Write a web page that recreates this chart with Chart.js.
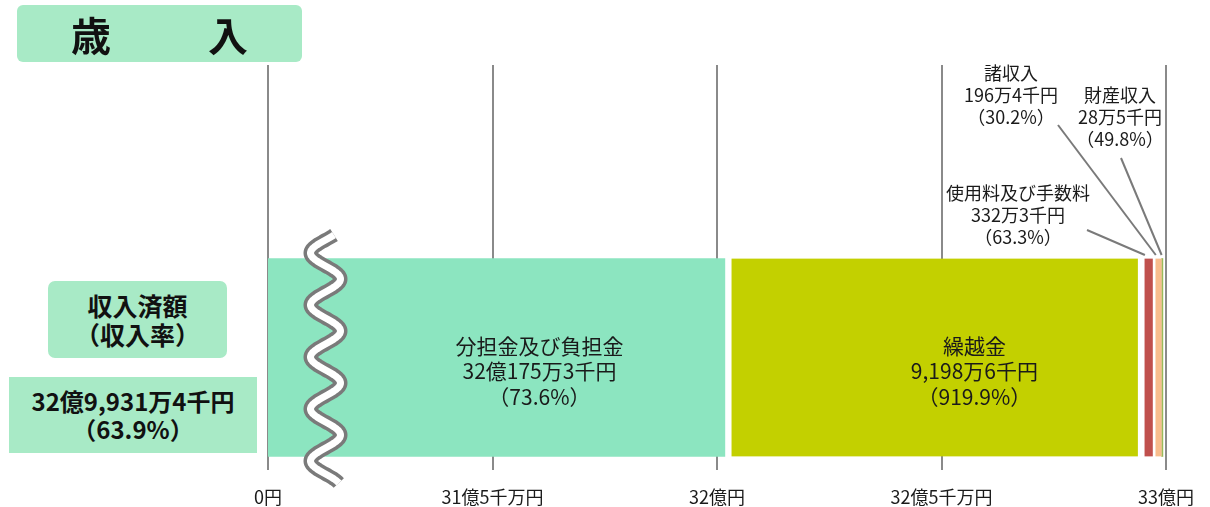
<!DOCTYPE html>
<html lang="ja">
<head>
<meta charset="utf-8">
<script src="https://cdn.jsdelivr.net/npm/chart.js@4.4.1/dist/chart.umd.min.js"></script>
<style>
    body { margin: 0; background: #ffffff; font-family: "Noto Sans CJK JP", "Noto Sans", sans-serif; }
    #wrap { position: relative; width: 1210px; height: 507px; }
    #chart { position: absolute; left: 0; top: 0; }
    .box { position: absolute; background: #a8eac6; color: #111111; font-weight: bold; text-align: center; display: flex; flex-direction: column; justify-content: center; line-height: 1.15; }
    #title { left: 17px; top: 5px; width: 285px; height: 57px; border-radius: 6px; font-size: 40px; flex-direction: row; justify-content: space-between; align-items: center; padding: 0 54px; box-sizing: border-box; }
    #head { left: 48px; top: 281px; width: 179px; height: 77px; border-radius: 7px; font-size: 25px; }
    #total { left: 9px; top: 377px; width: 248px; height: 76px; font-size: 24px; }
</style>
</head>
<body>
<div id="wrap">
    <canvas id="chart" width="1210" height="507"></canvas>
    <div class="box" id="title"><span>歳</span><span>入</span></div>
    <div class="box" id="head"><div>収入済額</div><div>（収入率）</div></div>
    <div class="box" id="total"><div id="totalAmount"></div><div id="totalRate"></div></div>
</div>
<script>
    /* Values in 万円 */
    const categories = ['収入済額'];
    const sourceNames = ['分担金及び負担金', '繰越金', '使用料及び手数料', '諸収入', '財産収入'];
    const amounts = [320175.3, 9198.6, 332.3, 196.4, 28.5];
    const amountTexts = ['32億175万3千円', '9,198万6千円', '332万3千円', '196万4千円', '28万5千円'];
    const rateTexts = ['73.6%', '919.9%', '63.3%', '30.2%', '49.8%'];
    const totalText = '32億9,931万4千円';
    const totalRateText = '63.9%';

    /* Broken axis: 31億 is shown as 0円 */
    const axisMin = 310000;
    const axisMax = 330000;
    const tickValues = [310000, 315000, 320000, 325000, 330000];
    const tickLabels = ['0円', '31億5千万円', '32億円', '32億5千万円', '33億円'];

    const palette = ['#8ce5c0', '#c3d000', '#c0504d', '#f8bd8d', '#9bbb59'];
    const gaps = [0, 7, 7, 3, 0];
    const fontFamily = '"Noto Sans CJK JP", "Noto Sans", sans-serif';

    document.getElementById('totalAmount').textContent = totalText;
    document.getElementById('totalRate').textContent = '（' + totalRateText + '）';

    const pct = (t) => '（' + t + '）';

    // grid lines run up above the bar, wavy break mark, labels and leaders
    const decor = {
        id: 'decor',
        beforeDatasetsDraw(chart) {
            const { ctx, chartArea, scales } = chart;
            ctx.save();
            ctx.strokeStyle = '#8a8a8a';
            ctx.lineWidth = 2;
            tickValues.forEach((v) => {
                const x = Math.round(scales.x.getPixelForValue(v));
                ctx.beginPath();
                ctx.moveTo(x, 65);
                ctx.lineTo(x, chartArea.top);
                ctx.stroke();
            });
            ctx.restore();
        },
        afterDatasetsDraw(chart) {
            const { ctx, chartArea, scales } = chart;
            const x = scales.x;
            const ends = [];
            let acc = 0;
            amounts.forEach((a) => {
                const s = Math.max(x.getPixelForValue(acc), chartArea.left);
                acc += a;
                ends.push([s, x.getPixelForValue(acc)]);
            });

            ctx.save();
            // wave break mark
            const cx = chartArea.left + 57.5;
            const wave = () => {
                ctx.beginPath();
                for (let y = 235; y <= 483; y += 1) {
                    const px = cx - 15 * Math.cos((2 * Math.PI * (y - 305)) / 52);
                    if (y === 235) ctx.moveTo(px, y);
                    else ctx.lineTo(px, y);
                }
                ctx.stroke();
            };
            ctx.lineJoin = 'round';
            ctx.strokeStyle = '#7a7a7a';
            ctx.lineWidth = 14;
            wave();
            ctx.strokeStyle = '#ffffff';
            ctx.lineWidth = 7;
            wave();

            // labels inside the two big segments
            ctx.fillStyle = '#1a1a1a';
            ctx.textAlign = 'center';
            ctx.textBaseline = 'middle';
            ctx.font = '21px ' + fontFamily;
            [0, 1].forEach((i) => {
                const lx = (ends[i][0] + ends[i][1]) / 2 + 43;
                ctx.fillText(sourceNames[i], lx, 346);
                ctx.fillText(amountTexts[i], lx, 371);
                ctx.fillText(pct(rateTexts[i]), lx, 397);
            });

            // small segments: labels with leader lines
            ctx.font = '18px ' + fontFamily;
            const notes = [
                { i: 2, x: 1018, y: 193, from: [1087, 230] },
                { i: 3, x: 1011, y: 73, from: [1058, 125] },
                { i: 4, x: 1120, y: 95, from: [1121, 158] },
            ];
            notes.forEach((n) => {
                ctx.fillStyle = '#1a1a1a';
                ctx.fillText(sourceNames[n.i], n.x, n.y);
                ctx.fillText(amountTexts[n.i], n.x, n.y + 22);
                ctx.fillText(pct(rateTexts[n.i]), n.x, n.y + 44);
                const tx = ends[n.i][0] + gaps[n.i];
                ctx.strokeStyle = '#7a7a7a';
                ctx.lineWidth = 2;
                ctx.beginPath();
                ctx.moveTo(n.from[0], n.from[1]);
                ctx.lineTo(tx, chartArea.top + 10);
                ctx.stroke();
            });
            ctx.restore();
        },
    };

    new Chart(document.getElementById('chart'), {
        type: 'bar',
        data: {
            labels: categories,
            datasets: sourceNames.map((name, i) => ({
                label: name,
                data: [amounts[i]],
                backgroundColor: palette[i],
                borderColor: '#ffffff',
                borderWidth: { left: gaps[i], right: 0, top: 0, bottom: 0 },
                borderSkipped: false,
                barThickness: 198,
                clip: 0,
            })),
        },
        options: {
            indexAxis: 'y',
            responsive: false,
            animation: false,
            layout: {
                padding: { left: 268, right: 44, top: 245, bottom: -17 },
            },
            scales: {
                x: {
                    stacked: true,
                    min: axisMin,
                    max: axisMax,
                    afterBuildTicks: (axis) => {
                        axis.ticks = tickValues.map((v) => ({ value: v }));
                    },
                    afterFit: (axis) => {
                        // labels have room in the layout padding already
                        axis.paddingLeft = 0;
                        axis.paddingRight = 0;
                    },
                    border: {
                        display: false,
                    },
                    grid: {
                        color: '#8a8a8a',
                        lineWidth: 2,
                        drawTicks: false,
                    },
                    ticks: {
                        color: '#1a1a1a',
                        padding: 18,
                        autoSkip: false,
                        maxRotation: 0,
                        font: { family: fontFamily, size: 18, lineHeight: 1 },
                        callback: (v) => tickLabels[tickValues.indexOf(v)],
                    },
                },
                y: {
                    stacked: true,
                    display: false,
                },
            },
            plugins: {
                legend: { display: false },
                tooltip: { enabled: false },
            },
        },
        plugins: [decor],
    });
</script>
</body>
</html>
